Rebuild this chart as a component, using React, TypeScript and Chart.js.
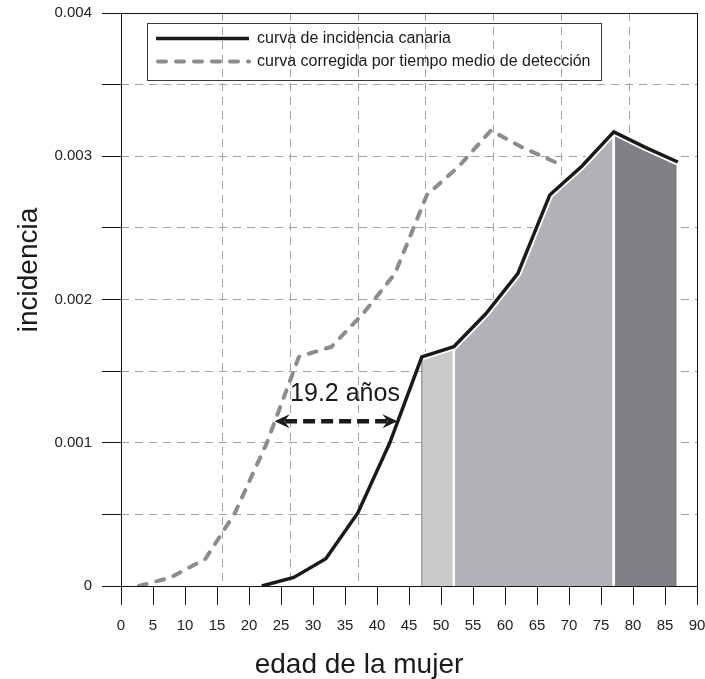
import React, { useEffect, useRef } from 'react';
import { Chart, registerables } from 'chart.js';

Chart.register(...registerables);

// Incidencia canaria por edad (punto medio de cada grupo quinquenal)
const ageCanaria = [22, 27, 32, 37, 42, 47, 52, 57, 62, 67, 72, 77, 82, 87];
const incidenceCanaria = [0, 0.00006, 0.00019, 0.00051, 0.001, 0.0016, 0.00167, 0.0019, 0.00218, 0.00273, 0.00293, 0.00317, 0.00306, 0.00296];

// Curva corregida por tiempo medio de detección
const ageCorrected = [2.8, 7.8, 13.2, 17.8, 22.8, 27.8, 32.9, 37.8, 42.8, 47.8, 52.8, 57.8, 62.8, 67.8];
const incidenceCorrected = [0, 0.00006, 0.00019, 0.00051, 0.001, 0.0016, 0.00167, 0.0019, 0.00218, 0.00273, 0.00293, 0.00318, 0.00306, 0.00296];

// Tramos de edad sombreados bajo la curva canaria
const bandStart = [47, 52, 77];
const bandEnd = [52, 77, 87];
const bandFill = ['#c9cacc', '#b1b2b5', '#808184'];
const bandEdge = ['#9d9ea1', '#ffffff', '#ffffff'];

// Desfase entre ambas curvas
const shiftYears = 19.2;
const shiftFromAge = 24.0;
const shiftLevel = 0.00115;
const shiftLabelAge = 35.0;
const shiftLabelLevel = 0.00129;

// Ejes
const xMin = 0;
const xMax = 90;
const xStep = 5;
const yMin = 0;
const yMax = 0.004;
const yStep = 0.0005;
const yLabeled = [0, 0.001, 0.002, 0.003, 0.004];
const yTickLabels = ['0', '0.001', '0.002', '0.003', '0.004'];

const xTitle = 'edad de la mujer';
const yTitle = 'incidencia';
const labelCanaria = 'curva de incidencia canaria';
const labelCorrected = 'curva corregida por tiempo medio de detección';

const FONT = '"Liberation Sans", Arial, Helvetica, sans-serif';
const INK = '#1a1a1a';
const GREY_LINE = '#8b8c8e';
const GRID = '#a3a3a3';

const toPoints = (xs: number[], ys: number[]) => xs.map((x, i) => ({ x, y: ys[i] }));

function bandPoints(from: number, to: number) {
  const pts = toPoints(ageCanaria, incidenceCanaria).filter((p) => p.x >= from && p.x <= to);
  return [{ x: from, y: 0 }, ...pts, { x: to, y: 0 }];
}

const framePlugin = {
  id: 'frame',
  afterDatasetsDraw(chart: any) {
    const { ctx, chartArea: a } = chart;
    ctx.save();
    ctx.strokeStyle = '#111';
    ctx.lineWidth = 1;
    ctx.strokeRect(Math.round(a.left) + 0.5, Math.round(a.top) + 0.5, Math.round(a.right - a.left), Math.round(a.bottom - a.top));
    ctx.restore();
  },
};

const shiftPlugin = {
  id: 'shiftArrow',
  afterDatasetsDraw(chart: any) {
    const { ctx } = chart;
    const xs = chart.scales.x;
    const ys = chart.scales.y;
    const y = ys.getPixelForValue(shiftLevel);
    const xa = xs.getPixelForValue(shiftFromAge);
    const xb = xs.getPixelForValue(shiftFromAge + shiftYears);
    const head = 15;
    const half = 7;
    ctx.save();
    ctx.strokeStyle = INK;
    ctx.fillStyle = INK;
    ctx.lineWidth = 4.5;
    ctx.setLineDash([12, 6]);
    ctx.beginPath();
    ctx.moveTo(xa + head * 0.7, y);
    ctx.lineTo(xb - head * 0.7, y);
    ctx.stroke();
    ctx.setLineDash([]);
    const drawHead = (tip: number, dir: number) => {
      ctx.beginPath();
      ctx.moveTo(tip, y);
      ctx.lineTo(tip + dir * head, y - half);
      ctx.lineTo(tip + dir * head * 0.65, y);
      ctx.lineTo(tip + dir * head, y + half);
      ctx.closePath();
      ctx.fill();
    };
    drawHead(xa, 1);
    drawHead(xb, -1);
    ctx.font = `25px ${FONT}`;
    ctx.textAlign = 'center';
    ctx.textBaseline = 'alphabetic';
    ctx.fillText(`${shiftYears} años`, xs.getPixelForValue(shiftLabelAge), ys.getPixelForValue(shiftLabelLevel));
    ctx.restore();
  },
};

const titlesPlugin = {
  id: 'axisTitles',
  afterDraw(chart: any) {
    const { ctx, chartArea: a } = chart;
    ctx.save();
    ctx.fillStyle = INK;
    ctx.font = `28px ${FONT}`;
    ctx.textAlign = 'center';
    ctx.textBaseline = 'alphabetic';
    ctx.fillText(xTitle, a.left + 238, a.bottom + 87);
    ctx.translate(a.left - 84, a.top + 257);
    ctx.rotate(-Math.PI / 2);
    ctx.fillText(yTitle, 0, 0);
    ctx.restore();
  },
};

const legendPlugin = {
  id: 'boxLegend',
  afterDraw(chart: any) {
    const { ctx, chartArea: a } = chart;
    const left = Math.round(a.left) + 26;
    const top = Math.round(a.top) + 10;
    const w = 454;
    const h = 57;
    ctx.save();
    ctx.strokeStyle = '#3a3a3a';
    ctx.lineWidth = 1;
    ctx.strokeRect(left + 0.5, top + 0.5, w, h);
    const rows = [chart.data.datasets[0], chart.data.datasets[1]];
    rows.forEach((ds: any, i: number) => {
      const y = top + 15.5 + i * 23;
      ctx.strokeStyle = ds.borderColor;
      ctx.lineWidth = ds.borderWidth;
      ctx.lineCap = ds.borderCapStyle || 'butt';
      ctx.setLineDash(ds.borderDash || []);
      ctx.beginPath();
      ctx.moveTo(left + 9 + (ds.borderDash ? 2 : 0), y);
      ctx.lineTo(left + 102, y);
      ctx.stroke();
      ctx.setLineDash([]);
      ctx.fillStyle = INK;
      ctx.font = `16px ${FONT}`;
      ctx.textAlign = 'left';
      ctx.textBaseline = 'middle';
      ctx.fillText(ds.label, left + 110, y);
    });
    ctx.restore();
  },
};

export default function App() {
  const canvasRef = useRef<HTMLCanvasElement | null>(null);

  useEffect(() => {
    if (!canvasRef.current) return;
    const firstBand = ageCanaria.indexOf(bandStart[0]);
    const haloPoints = toPoints(ageCanaria, incidenceCanaria).slice(firstBand);

    const bands = bandStart.map((s, i) => ({
      label: `band${i}`,
      data: bandPoints(s, bandEnd[i]),
      borderColor: bandEdge[i],
      borderWidth: i === 0 ? 1.5 : 2.5,
      backgroundColor: bandFill[i],
      fill: 'origin',
      pointRadius: 0,
      tension: 0,
      order: 20 - i,
    }));

    const chart = new Chart(canvasRef.current, {
      type: 'line',
      data: {
        datasets: [
          {
            label: labelCanaria,
            data: toPoints(ageCanaria, incidenceCanaria),
            borderColor: INK,
            borderWidth: 3.5,
            borderJoinStyle: 'miter',
            pointRadius: 0,
            fill: false,
            order: 0,
          },
          {
            label: labelCorrected,
            data: toPoints(ageCorrected, incidenceCorrected),
            borderColor: GREY_LINE,
            borderWidth: 4,
            borderDash: [8, 10],
            borderCapStyle: 'round',
            borderJoinStyle: 'round',
            pointRadius: 0,
            fill: false,
            order: 1,
          },
          {
            label: 'halo',
            data: haloPoints,
            borderColor: '#ffffff',
            borderWidth: 7,
            pointRadius: 0,
            fill: false,
            order: 5,
          },
          ...bands,
        ] as any,
      },
      options: {
        animation: false,
        responsive: false,
        events: [],
        layout: { padding: { left: 0, top: 13, right: 8, bottom: 0 } },
        font: { family: FONT },
        plugins: {
          legend: { display: false },
          tooltip: { enabled: false },
        },
        scales: {
          x: {
            type: 'linear',
            position: 'bottom',
            min: xMin,
            max: xMax,
            ticks: {
              stepSize: xStep,
              autoSkip: false,
              maxRotation: 0,
              padding: 12,
              color: '#222',
              font: { family: FONT, size: 15 },
              callback: (v: any) => String(v),
            },
            grid: { drawOnChartArea: false, drawTicks: true, tickLength: 19, tickColor: '#111', tickWidth: 1 },
            border: { display: false },
            afterFit: (s: any) => {
              s.height = 93;
              s.paddingLeft = 0;
              s.paddingRight = 0;
            },
          },
          xg: {
            type: 'linear',
            position: 'top',
            min: -0.5,
            max: 8,
            ticks: { display: false, stepSize: 1 },
            grid: { drawOnChartArea: true, drawTicks: false, color: GRID, lineWidth: 1 },
            border: { display: false, dash: [8, 6] },
            afterFit: (s: any) => {
              s.height = 0;
              s.paddingLeft = 0;
              s.paddingRight = 0;
              s.paddingTop = 0;
              s.paddingBottom = 0;
            },
          },
          y: {
            type: 'linear',
            min: yMin,
            max: yMax,
            ticks: {
              stepSize: yStep,
              autoSkip: false,
              padding: 10,
              color: '#222',
              font: { family: FONT, size: 15 },
              callback: (v: any) => {
                const i = yLabeled.findIndex((t) => Math.abs(t - Number(v)) < 1e-9);
                return i >= 0 ? yTickLabels[i] : '';
              },
            },
            grid: { drawOnChartArea: true, drawTicks: true, tickLength: 19, tickColor: '#111', tickWidth: 1, color: GRID, lineWidth: 1 },
            border: { display: false, dash: [8, 6] },
            afterFit: (s: any) => {
              s.width = 121;
              s.paddingTop = 0;
              s.paddingBottom = 0;
              s.paddingLeft = 0;
              s.paddingRight = 0;
            },
          },
        },
      } as any,
      plugins: [framePlugin, shiftPlugin, titlesPlugin, legendPlugin],
    });
    return () => chart.destroy();
  }, []);

  return (
    <div style={{ position: 'absolute', left: 0, top: 0, width: 705, height: 679, background: '#fff' }}>
      <canvas ref={canvasRef} width={705} height={679} style={{ display: 'block' }} />
    </div>
  );
}
